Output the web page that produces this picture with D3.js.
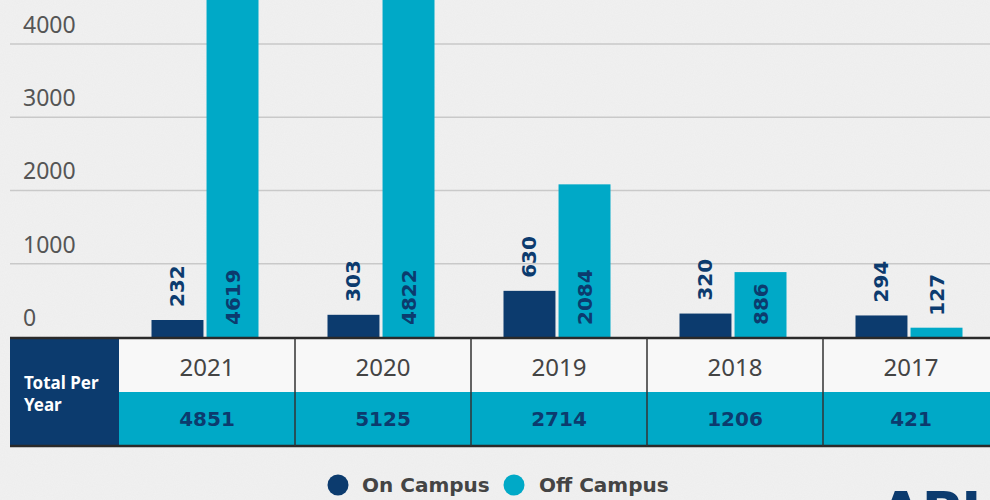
<!DOCTYPE html>
<html><head><meta charset="utf-8">
<script src="https://cdn.jsdelivr.net/npm/d3@7"></script>
<style>
html,body{margin:0;padding:0;background:#ededed;}
svg{display:block;}
</style></head>
<body>
<svg id="c" width="990" height="500"></svg>
<script>
const years = ["2021","2020","2019","2018","2017"];
const onCampus = [232, 303, 630, 320, 294];
const offCampus = [4619, 4822, 2084, 886, 127];
const totals = [4851, 5125, 2714, 1206, 421];
const yTicks = [0, 1000, 2000, 3000, 4000];
const seriesNames = ["On Campus", "Off Campus"];

const NAVY = "#0c3b6e", CYAN = "#00a9c7";
const svg = d3.select("#c");

// background texture-ish
const defs = svg.append("defs");
const f = defs.append("filter").attr("id","paper").attr("x",0).attr("y",0).attr("width","100%").attr("height","100%");
f.append("feTurbulence").attr("type","fractalNoise").attr("baseFrequency","0.9").attr("numOctaves",2).attr("seed",3).attr("result","n");
f.append("feColorMatrix").attr("in","n").attr("type","matrix")
 .attr("values","0 0 0 0 0.55  0 0 0 0 0.55  0 0 0 0 0.55  0 0 0 0.10 0");
svg.append("rect").attr("width",990).attr("height",500).attr("fill","#f1f1f1");
svg.append("rect").attr("width",990).attr("height",500).attr("filter","url(#paper)");

const y = d3.scaleLinear().domain([0,4000]).range([337,44]);
const x = d3.scaleBand().domain(years).range([119,999]).padding(0);
const x1 = d3.scaleBand().domain(seriesNames).range([0,107]).paddingInner(0.056);
const off = (x.bandwidth()-107)/2 - 2;

// grid
const gridG = svg.append("g");
gridG.selectAll("line").data(yTicks.filter(d=>d>0)).join("line")
  .attr("x1",10).attr("x2",990).attr("y1",d=>y(d)).attr("y2",d=>y(d))
  .attr("stroke","#c9c9c9").attr("stroke-width",1.5);
// tick labels via axis
const axis = d3.axisLeft(y).tickValues(yTicks).tickFormat(d3.format("d")).tickSize(0).tickPadding(0);
const ag = svg.append("g").attr("transform","translate(23,-19)").call(axis);
ag.select(".domain").remove();
ag.selectAll("text").attr("text-anchor","start").attr("x",0)
  .attr("font-family","'Noto Sans', sans-serif").attr("font-size",23).attr("fill","#555");

// bars
const data = years.map((yr,i)=>({yr, vals:[{s:seriesNames[0],v:onCampus[i]},{s:seriesNames[1],v:offCampus[i]}]}));
const g = svg.append("g").selectAll("g").data(data).join("g")
  .attr("transform",d=>`translate(${x(d.yr)+off},0)`);
g.selectAll("rect").data(d=>d.vals).join("rect")
  .attr("x",d=>x1(d.s)).attr("width",x1.bandwidth())
  .attr("y",d=>y(d.v)).attr("height",d=>y(0)-y(d.v))
  .attr("fill",d=>d.s===seriesNames[0]?NAVY:CYAN);
g.selectAll("text").data(d=>d.vals).join("text")
  .attr("transform",d=>{
    const cx = x1(d.s)+x1.bandwidth()/2;
    let yy;
    if (d.s===seriesNames[0]) yy = y(d.v)-13;
    else yy = (y(0)-y(d.v) > 40) ? y(0)-12 : y(d.v)-12;
    return `translate(${cx},${yy}) rotate(-90)`;
  })
  .attr("dominant-baseline","central").attr("text-anchor","start")
  .attr("font-family","'DejaVu Sans', sans-serif").attr("font-weight","bold")
  .attr("font-size",20).attr("fill",NAVY)
  .text(d=>d.v);

// table
const tTop = 338, rowH = 54;
svg.append("rect").attr("x",119).attr("y",tTop).attr("width",871).attr("height",rowH).attr("fill","#fafafa").attr("opacity",0.8);
svg.append("rect").attr("x",119).attr("y",tTop+rowH).attr("width",871).attr("height",rowH).attr("fill",CYAN);
svg.append("rect").attr("x",10).attr("y",tTop).attr("width",109).attr("height",rowH*2).attr("fill",NAVY);
svg.append("line").attr("x1",10).attr("x2",990).attr("y1",tTop).attr("y2",tTop).attr("stroke","#2a2a2a").attr("stroke-width",2.5);
svg.append("line").attr("x1",10).attr("x2",990).attr("y1",tTop+rowH*2).attr("y2",tTop+rowH*2).attr("stroke","#2a2a2a").attr("stroke-width",2.5);
svg.append("g").selectAll("line").data(years.slice(1)).join("line")
  .attr("x1",d=>x(d)).attr("x2",d=>x(d)).attr("y1",tTop).attr("y2",tTop+rowH*2)
  .attr("stroke","#333").attr("stroke-width",1.5);
svg.append("g").selectAll("text").data(years).join("text")
  .attr("x",d=>x(d)+x.bandwidth()/2).attr("y",tTop+rowH/2+1)
  .attr("text-anchor","middle").attr("dominant-baseline","central")
  .attr("font-family","'Noto Sans', sans-serif").attr("font-size",24).attr("fill","#444")
  .text(d=>d);
svg.append("g").selectAll("text").data(totals).join("text")
  .attr("x",(d,i)=>x(years[i])+x.bandwidth()/2).attr("y",tTop+rowH*1.5)
  .attr("text-anchor","middle").attr("dominant-baseline","central")
  .attr("font-family","'DejaVu Sans', sans-serif").attr("font-weight","bold").attr("font-size",20).attr("fill",NAVY)
  .text(d=>d);
const lt = svg.append("text").attr("font-family","'Noto Sans', sans-serif").attr("font-weight","bold")
  .attr("font-size",17).attr("fill","#fff");
lt.append("tspan").attr("x",24).attr("y",389).text("Total Per");
lt.append("tspan").attr("x",24).attr("y",411).text("Year");

// legend
const leg = [{s:seriesNames[0],c:NAVY,cx:338,tx:362},{s:seriesNames[1],c:CYAN,cx:514,tx:539}];
const lg = svg.append("g").selectAll("g").data(leg).join("g");
lg.append("circle").attr("cx",d=>d.cx).attr("cy",485).attr("r",10.5).attr("fill",d=>d.c);
lg.append("text").attr("x",d=>d.tx).attr("y",485).attr("dominant-baseline","central")
  .attr("font-family","'DejaVu Sans', sans-serif").attr("font-weight","bold").attr("font-size",20).attr("fill","#444")
  .text(d=>d.s);

// logo fragment
svg.append("text").attr("x",880).attr("y",530).attr("font-family","'DejaVu Sans', sans-serif")
  .attr("font-weight","bold").attr("font-size",54).attr("fill",NAVY).text("API");
</script>
</body></html>
